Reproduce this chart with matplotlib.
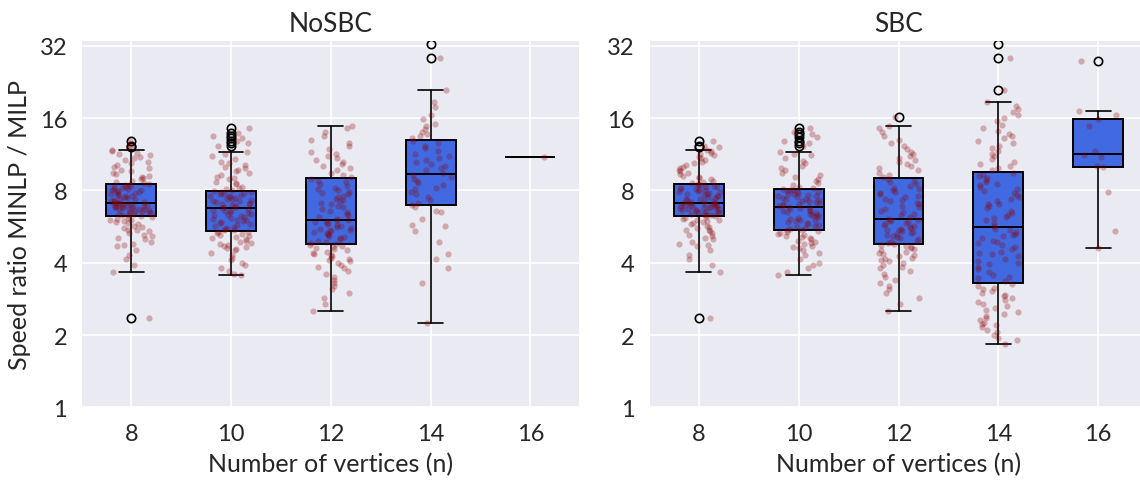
import math
import matplotlib
matplotlib.use("Agg")
import matplotlib.pyplot as plt
from matplotlib.ticker import NullLocator, FixedLocator, FixedFormatter
import seaborn as sns

sns.set_theme(style="darkgrid")
plt.rcParams["font.family"] = ["Lato", "DejaVu Sans"]

# ---------------- data ----------------
categories = ["8", "10", "12", "14", "16"]
panel_titles = ["NoSBC", "SBC"]
ytick_values = [1, 2, 4, 8, 16, 32]

# individual runs (speed ratio)
nosbc_n8 = [2.36, 3.65, 3.9, 4.15, 4.3, 4.5, 4.7, 4.75, 4.8, 4.9, 5.0, 5.05, 5.15, 5.2, 5.3, 5.4,
            5.45, 5.5, 5.6, 5.65, 5.7, 5.8, 5.85, 5.9, 5.95, 6.0, 6.05, 6.1, 6.15, 6.2, 6.25,
            6.3, 6.35, 6.38, 6.4, 6.45, 6.5, 6.52, 6.55, 6.6, 6.62, 6.65, 6.68, 6.7, 6.72, 6.75,
            6.78, 6.8, 6.83, 6.85, 6.88, 6.9, 6.92, 6.95, 6.97, 7.0, 7.02, 7.05, 7.08, 7.1, 7.12,
            7.15, 7.2, 7.25, 7.3, 7.35, 7.4, 7.45, 7.5, 7.55, 7.6, 7.65, 7.7, 7.75, 7.8, 7.85,
            7.9, 7.95, 8.0, 8.05, 8.1, 8.15, 8.2, 8.25, 8.3, 8.35, 8.4, 8.45, 8.5,
            8.6, 8.7, 8.8, 8.9, 9.0, 9.1, 9.2, 9.35, 9.5, 9.6, 9.75, 9.9, 10.0, 10.2, 10.4,
            10.5, 10.7, 10.9, 11.0, 11.2, 11.4, 11.5, 11.7, 11.8, 12.1, 12.2, 12.9]
nosbc_n10 = [3.54, 3.6, 3.7, 3.8, 3.9, 4.0, 4.1, 4.2, 4.3, 4.4, 4.5, 4.55, 4.6, 4.65, 4.7, 4.75,
             4.8, 4.85, 4.9, 4.95, 5.0, 5.05, 5.1, 5.15, 5.2, 5.25, 5.3, 5.35, 5.38,
             5.45, 5.5, 5.55, 5.6, 5.65, 5.7, 5.75, 5.8, 5.85, 5.9, 5.95, 6.0, 6.05, 6.1, 6.15,
             6.2, 6.25, 6.3, 6.35, 6.4, 6.45, 6.5, 6.55, 6.6, 6.65, 6.7, 6.75,
             6.8, 6.85, 6.9, 6.95, 7.0, 7.05, 7.1, 7.15, 7.2, 7.25, 7.3, 7.35, 7.4, 7.45, 7.5,
             7.55, 7.6, 7.65, 7.7, 7.75, 7.8, 7.85, 7.9, 7.95,
             8.0, 8.1, 8.2, 8.3, 8.5, 8.6, 8.7, 8.9, 9.0, 9.1, 9.3, 9.5, 9.6, 9.7, 9.9, 10.0,
             10.2, 10.4, 10.5, 10.8, 11.1, 11.4, 11.6,
             12.3, 12.6, 12.9, 13.2, 13.5, 13.9, 14.5]
nosbc_n12 = [2.51, 2.7, 2.85, 3.0, 3.1, 3.2, 3.3, 3.4, 3.5, 3.6, 3.7, 3.8, 3.85, 3.9, 4.0, 4.05,
             4.1, 4.15, 4.2, 4.25, 4.3, 4.35, 4.4, 4.45, 4.5, 4.55, 4.6, 4.65, 4.7, 4.75,
             4.8, 4.85, 4.9, 4.95, 5.0, 5.05, 5.1, 5.15, 5.2, 5.25, 5.3, 5.35, 5.4, 5.45, 5.5,
             5.55, 5.6, 5.65, 5.7, 5.75, 5.8, 5.85, 5.9, 5.95, 6.0, 6.05,
             6.1, 6.2, 6.3, 6.4, 6.5, 6.6, 6.7, 6.8, 6.9, 7.0, 7.1, 7.2, 7.3, 7.4, 7.5, 7.6,
             7.7, 7.8, 7.9, 8.0, 8.1, 8.2, 8.35, 8.5, 8.65, 8.8, 8.95,
             9.1, 9.3, 9.5, 9.7, 9.9, 10.1, 10.3, 10.5, 10.7, 10.9, 11.1, 11.3, 11.6, 11.9,
             12.2, 12.6, 13.0, 13.5, 14.0, 14.5, 14.8]
nosbc_n14 = [2.24, 3.3, 3.8, 4.15, 4.35, 4.9, 5.4, 5.7, 5.75, 6.1, 6.5, 6.6, 6.8, 6.95,
             7.1, 7.3, 7.5, 7.7, 7.9, 8.1, 8.2, 8.4, 8.6, 8.8, 8.9, 9.1, 9.3,
             9.5, 9.7, 9.9, 10.1, 10.3, 10.5, 10.7, 10.9, 11.1, 11.4, 11.7, 12.0, 12.3, 12.6, 12.9,
             13.2, 13.5, 13.7, 14.0, 14.4, 14.9, 15.2, 15.8, 16.5, 17.8, 18.7, 21.0, 28.6]
nosbc_n16 = [11.05]

sbc_n8 = nosbc_n8
sbc_n10 = [3.54, 3.65, 3.8, 3.9, 4.0, 4.15, 4.3, 4.4, 4.5, 4.6, 4.65, 4.7, 4.8, 4.85, 4.9, 4.95,
           5.0, 5.05, 5.1, 5.15, 5.2, 5.25, 5.3, 5.35, 5.4, 5.45,
           5.5, 5.55, 5.6, 5.65, 5.7, 5.75, 5.8, 5.85, 5.9, 5.95, 6.0, 6.05, 6.1, 6.15, 6.2,
           6.25, 6.3, 6.35, 6.4, 6.45, 6.5, 6.55, 6.6, 6.65, 6.7, 6.75, 6.8, 6.85,
           6.9, 6.95, 7.0, 7.05, 7.1, 7.15, 7.2, 7.25, 7.3, 7.35, 7.4, 7.45, 7.5, 7.55, 7.6,
           7.65, 7.7, 7.75, 7.8, 7.85, 7.9, 7.95, 8.0, 8.05, 8.1,
           8.2, 8.3, 8.45, 8.6, 8.75, 8.9, 9.1, 9.3, 9.5, 9.7, 9.9, 10.1, 10.4, 10.6, 10.9,
           11.2, 11.4, 11.6, 12.3, 12.6, 12.9, 13.3, 13.7, 14.0, 14.5]
sbc_n12 = nosbc_n12 + [16.15]
sbc_n14 = [1.83, 1.9, 1.95, 2.0, 2.05, 2.1, 2.15, 2.2, 2.22, 2.25, 2.3, 2.35, 2.4, 2.45, 2.5,
           2.55, 2.6, 2.65, 2.7, 2.75, 2.8, 2.85, 2.9, 2.95, 3.0, 3.05, 3.1, 3.15, 3.2, 3.25,
           3.35, 3.45, 3.5, 3.55, 3.65, 3.75, 3.85, 3.95, 4.0, 4.05, 4.15, 4.25, 4.35, 4.4,
           4.45, 4.55, 4.65, 4.75, 4.85, 4.9, 4.95, 5.05, 5.15, 5.2, 5.25, 5.35, 5.45, 5.55,
           5.7, 5.85, 6.0, 6.15, 6.2, 6.3, 6.45, 6.6, 6.75, 6.9, 7.0, 7.05, 7.2, 7.35, 7.5,
           7.65, 7.8, 7.95, 8.1, 8.25, 8.4, 8.55, 8.7, 8.85, 9.0, 9.15, 9.3, 9.45,
           9.7, 9.9, 10.1, 10.3, 10.5, 10.8, 11.1, 11.4, 11.7, 12.0, 12.3, 12.6, 12.9, 13.2,
           13.5, 13.8, 14.1, 14.5, 15.0, 15.5, 16.0, 16.5, 17.0, 17.5, 18.0, 18.7, 21.0, 28.6]
sbc_n16 = [4.6, 5.42, 7.86, 9.99, 10.14, 11.0, 11.2, 11.7, 14.8, 15.95, 16.5, 17.2, 27.7]

nosbc_runs = [nosbc_n8, nosbc_n10, nosbc_n12, nosbc_n14, nosbc_n16]
sbc_runs = [sbc_n8, sbc_n10, sbc_n12, sbc_n14, sbc_n16]

# box-plot statistics
nosbc_q1 = [6.29, 5.40, 4.77, 6.94, 11.05]
nosbc_med = [7.12, 6.77, 6.05, 9.40, 11.05]
nosbc_q3 = [8.50, 7.96, 8.99, 12.97, 11.05]
nosbc_whislo = [3.65, 3.54, 2.51, 2.24, 11.05]
nosbc_whishi = [11.8, 11.6, 14.8, 21.05, 11.05]
nosbc_fliers = [[2.36, 12.1, 12.2, 12.9], [12.3, 12.6, 12.9, 13.2, 13.5, 13.9, 14.5], [],
                [28.6, 32.5], []]

sbc_q1 = [6.29, 5.47, 4.77, 3.28, 10.0]
sbc_med = [7.12, 6.85, 6.06, 5.61, 11.4]
sbc_q3 = [8.50, 8.14, 8.99, 9.52, 15.95]
sbc_whislo = [3.65, 3.54, 2.51, 1.83, 4.6]
sbc_whishi = [11.8, 11.6, 14.8, 18.7, 17.2]
sbc_fliers = [[2.36, 12.1, 12.2, 12.9], [12.3, 12.6, 12.9, 13.3, 13.7, 14.0, 14.5], [16.15],
              [21.05, 28.6, 32.5], [27.7]]

panels = [
    (nosbc_runs, nosbc_q1, nosbc_med, nosbc_q3, nosbc_whislo, nosbc_whishi, nosbc_fliers),
    (sbc_runs, sbc_q1, sbc_med, sbc_q3, sbc_whislo, sbc_whishi, sbc_fliers),
]


def jitter(k, seed):
    """deterministic horizontal scatter offset in [-0.5, 0.5) for strip points"""
    v = math.sin((k + 1) * 12.9898 + seed * 78.233) * 43758.5453
    return v - math.floor(v) - 0.5


# ---------------- figure ----------------
fig = plt.figure(figsize=(11.4, 4.81), dpi=100)
ax_left = fig.add_axes([0.0722, 0.1511, 0.436, 0.762])
ax_right = fig.add_axes([0.5702, 0.1511, 0.436, 0.762])
axes = [ax_left, ax_right]

for p, (ax, title, data) in enumerate(zip(axes, panel_titles, panels)):
    runs, q1, med, q3, wlo, whi, fl = data
    stats = []
    for i in range(len(categories)):
        stats.append(dict(med=med[i], q1=q1[i], q3=q3[i], whislo=wlo[i], whishi=whi[i],
                          fliers=fl[i], label=categories[i]))
    ax.bxp(stats, positions=list(range(len(categories))), widths=0.5, patch_artist=True,
           boxprops=dict(facecolor="royalblue", edgecolor="black", linewidth=1.4),
           medianprops=dict(color="black", linewidth=1.4),
           whiskerprops=dict(color="black", linewidth=1.2),
           capprops=dict(color="black", linewidth=1.2),
           flierprops=dict(marker="o", markerfacecolor="none", markeredgecolor="black",
                           markersize=6, markeredgewidth=1.2),
           zorder=2)
    for i, vals in enumerate(runs):
        xs = [i + jitter(k, 10 * p + i) * 0.42 for k in range(len(vals))]
        ax.scatter(xs, vals, s=20, color="darkred", alpha=0.28, linewidths=0, zorder=3)

    ax.set_yscale("log", base=2)
    ax.set_ylim(1, 33.6)
    ax.yaxis.set_major_locator(FixedLocator(ytick_values))
    ax.yaxis.set_major_formatter(FixedFormatter([str(v) for v in ytick_values]))
    ax.yaxis.set_minor_locator(NullLocator())
    ax.set_xlim(-0.49, 4.49)
    ax.set_xticks(range(len(categories)))
    ax.set_xticklabels(categories)
    ax.tick_params(axis="both", length=0, labelsize=17, pad=11, colors="#262626")
    ax.grid(True, color="white", linewidth=1.2)
    ax.set_axisbelow(True)
    ax.set_title(title, fontsize=19, pad=7, color="#262626")
    ax.set_xlabel("Number of vertices (n)", fontsize=18, labelpad=6, color="#262626")
    for s in ax.spines.values():
        s.set_visible(False)

ax_left.set_ylabel("Speed ratio MINLP / MILP", fontsize=18, labelpad=6, color="#262626")

fig.savefig("out.png", dpi=100)
